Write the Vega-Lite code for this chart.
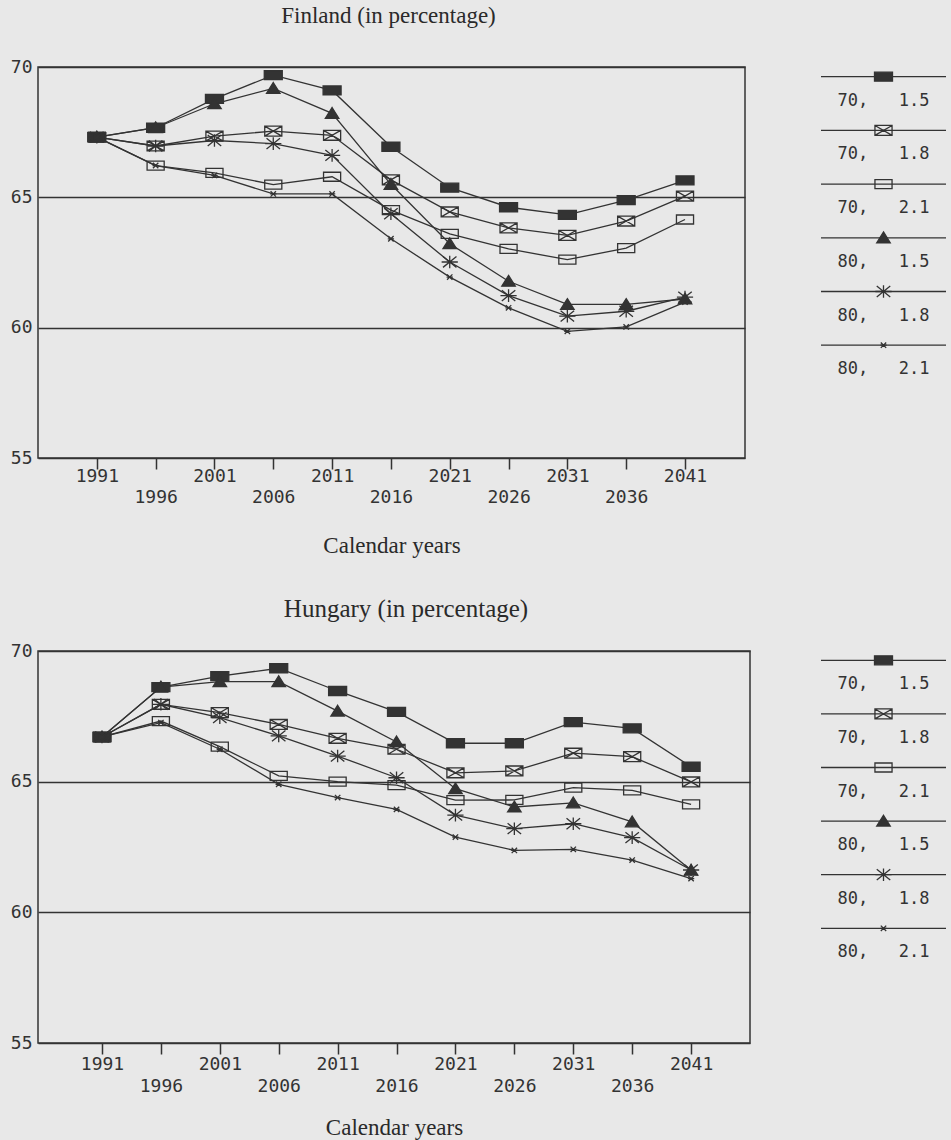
{
  "$schema": "https://vega.github.io/schema/vega-lite/v6.json",
  "background": "#e8e8e8",
  "padding": {"left": 9, "top": 4, "right": 5, "bottom": 0},
  "config": {
    "font": "DejaVu Sans Mono",
    "view": {"stroke": "#333", "strokeWidth": 1.5},
    "title": {"font": "Liberation Serif", "fontSize": 23, "fontWeight": "normal", "color": "#2a2a2a"},
    "axis": {"labelFont": "DejaVu Sans Mono", "labelFontSize": 18, "labelColor": "#333", "titleFont": "Liberation Serif", "titleFontSize": 23, "titleFontWeight": "normal", "titleColor": "#2a2a2a"}
  },
  "datasets": {
    "fin": [
      {"series": "70, 1.5", "year": 1991, "value": 67.31}, {"series": "70, 1.5", "year": 1996, "value": 67.67}, {"series": "70, 1.5", "year": 2001, "value": 68.78}, {"series": "70, 1.5", "year": 2006, "value": 69.69}, {"series": "70, 1.5", "year": 2011, "value": 69.10}, {"series": "70, 1.5", "year": 2016, "value": 66.94}, {"series": "70, 1.5", "year": 2021, "value": 65.37}, {"series": "70, 1.5", "year": 2026, "value": 64.62}, {"series": "70, 1.5", "year": 2031, "value": 64.33}, {"series": "70, 1.5", "year": 2036, "value": 64.89}, {"series": "70, 1.5", "year": 2041, "value": 65.65},
      {"series": "70, 1.8", "year": 1991, "value": 67.31}, {"series": "70, 1.8", "year": 1996, "value": 66.97}, {"series": "70, 1.8", "year": 2001, "value": 67.35}, {"series": "70, 1.8", "year": 2006, "value": 67.54}, {"series": "70, 1.8", "year": 2011, "value": 67.38}, {"series": "70, 1.8", "year": 2016, "value": 65.67}, {"series": "70, 1.8", "year": 2021, "value": 64.44}, {"series": "70, 1.8", "year": 2026, "value": 63.83}, {"series": "70, 1.8", "year": 2031, "value": 63.54}, {"series": "70, 1.8", "year": 2036, "value": 64.09}, {"series": "70, 1.8", "year": 2041, "value": 65.05},
      {"series": "70, 2.1", "year": 1991, "value": 67.31}, {"series": "70, 2.1", "year": 1996, "value": 66.22}, {"series": "70, 2.1", "year": 2001, "value": 65.94}, {"series": "70, 2.1", "year": 2006, "value": 65.49}, {"series": "70, 2.1", "year": 2011, "value": 65.79}, {"series": "70, 2.1", "year": 2016, "value": 64.51}, {"series": "70, 2.1", "year": 2021, "value": 63.60}, {"series": "70, 2.1", "year": 2026, "value": 63.02}, {"series": "70, 2.1", "year": 2031, "value": 62.61}, {"series": "70, 2.1", "year": 2036, "value": 63.05}, {"series": "70, 2.1", "year": 2041, "value": 64.15},
      {"series": "80, 1.5", "year": 1991, "value": 67.31}, {"series": "80, 1.5", "year": 1996, "value": 67.67}, {"series": "80, 1.5", "year": 2001, "value": 68.59}, {"series": "80, 1.5", "year": 2006, "value": 69.18}, {"series": "80, 1.5", "year": 2011, "value": 68.22}, {"series": "80, 1.5", "year": 2016, "value": 65.50}, {"series": "80, 1.5", "year": 2021, "value": 63.22}, {"series": "80, 1.5", "year": 2026, "value": 61.78}, {"series": "80, 1.5", "year": 2031, "value": 60.89}, {"series": "80, 1.5", "year": 2036, "value": 60.89}, {"series": "80, 1.5", "year": 2041, "value": 61.10},
      {"series": "80, 1.8", "year": 1991, "value": 67.31}, {"series": "80, 1.8", "year": 1996, "value": 66.97}, {"series": "80, 1.8", "year": 2001, "value": 67.18}, {"series": "80, 1.8", "year": 2006, "value": 67.06}, {"series": "80, 1.8", "year": 2011, "value": 66.61}, {"series": "80, 1.8", "year": 2016, "value": 64.37}, {"series": "80, 1.8", "year": 2021, "value": 62.52}, {"series": "80, 1.8", "year": 2026, "value": 61.23}, {"series": "80, 1.8", "year": 2031, "value": 60.44}, {"series": "80, 1.8", "year": 2036, "value": 60.63}, {"series": "80, 1.8", "year": 2041, "value": 61.17},
      {"series": "80, 2.1", "year": 1991, "value": 67.31}, {"series": "80, 2.1", "year": 1996, "value": 66.22}, {"series": "80, 2.1", "year": 2001, "value": 65.84}, {"series": "80, 2.1", "year": 2006, "value": 65.13}, {"series": "80, 2.1", "year": 2011, "value": 65.13}, {"series": "80, 2.1", "year": 2016, "value": 63.41}, {"series": "80, 2.1", "year": 2021, "value": 61.94}, {"series": "80, 2.1", "year": 2026, "value": 60.76}, {"series": "80, 2.1", "year": 2031, "value": 59.86}, {"series": "80, 2.1", "year": 2036, "value": 60.03}, {"series": "80, 2.1", "year": 2041, "value": 60.98}
    ],
    "hun": [
      {"series": "70, 1.5", "year": 1991, "value": 66.71}, {"series": "70, 1.5", "year": 1996, "value": 68.62}, {"series": "70, 1.5", "year": 2001, "value": 69.04}, {"series": "70, 1.5", "year": 2006, "value": 69.34}, {"series": "70, 1.5", "year": 2011, "value": 68.47}, {"series": "70, 1.5", "year": 2016, "value": 67.67}, {"series": "70, 1.5", "year": 2021, "value": 66.47}, {"series": "70, 1.5", "year": 2026, "value": 66.47}, {"series": "70, 1.5", "year": 2031, "value": 67.28}, {"series": "70, 1.5", "year": 2036, "value": 67.04}, {"series": "70, 1.5", "year": 2041, "value": 65.57},
      {"series": "70, 1.8", "year": 1991, "value": 66.71}, {"series": "70, 1.8", "year": 1996, "value": 67.96}, {"series": "70, 1.8", "year": 2001, "value": 67.64}, {"series": "70, 1.8", "year": 2006, "value": 67.19}, {"series": "70, 1.8", "year": 2011, "value": 66.66}, {"series": "70, 1.8", "year": 2016, "value": 66.24}, {"series": "70, 1.8", "year": 2021, "value": 65.34}, {"series": "70, 1.8", "year": 2026, "value": 65.41}, {"series": "70, 1.8", "year": 2031, "value": 66.09}, {"series": "70, 1.8", "year": 2036, "value": 65.96}, {"series": "70, 1.8", "year": 2041, "value": 64.99},
      {"series": "70, 2.1", "year": 1991, "value": 66.71}, {"series": "70, 2.1", "year": 1996, "value": 67.32}, {"series": "70, 2.1", "year": 2001, "value": 66.34}, {"series": "70, 2.1", "year": 2006, "value": 65.22}, {"series": "70, 2.1", "year": 2011, "value": 65.00}, {"series": "70, 2.1", "year": 2016, "value": 64.87}, {"series": "70, 2.1", "year": 2021, "value": 64.29}, {"series": "70, 2.1", "year": 2026, "value": 64.30}, {"series": "70, 2.1", "year": 2031, "value": 64.77}, {"series": "70, 2.1", "year": 2036, "value": 64.67}, {"series": "70, 2.1", "year": 2041, "value": 64.13},
      {"series": "80, 1.5", "year": 1991, "value": 66.71}, {"series": "80, 1.5", "year": 1996, "value": 68.62}, {"series": "80, 1.5", "year": 2001, "value": 68.83}, {"series": "80, 1.5", "year": 2006, "value": 68.83}, {"series": "80, 1.5", "year": 2011, "value": 67.70}, {"series": "80, 1.5", "year": 2016, "value": 66.52}, {"series": "80, 1.5", "year": 2021, "value": 64.73}, {"series": "80, 1.5", "year": 2026, "value": 64.03}, {"series": "80, 1.5", "year": 2031, "value": 64.19}, {"series": "80, 1.5", "year": 2036, "value": 63.46}, {"series": "80, 1.5", "year": 2041, "value": 61.61},
      {"series": "80, 1.8", "year": 1991, "value": 66.71}, {"series": "80, 1.8", "year": 1996, "value": 67.96}, {"series": "80, 1.8", "year": 2001, "value": 67.45}, {"series": "80, 1.8", "year": 2006, "value": 66.75}, {"series": "80, 1.8", "year": 2011, "value": 65.98}, {"series": "80, 1.8", "year": 2016, "value": 65.15}, {"series": "80, 1.8", "year": 2021, "value": 63.72}, {"series": "80, 1.8", "year": 2026, "value": 63.20}, {"series": "80, 1.8", "year": 2031, "value": 63.39}, {"series": "80, 1.8", "year": 2036, "value": 62.86}, {"series": "80, 1.8", "year": 2041, "value": 61.62},
      {"series": "80, 2.1", "year": 1991, "value": 66.71}, {"series": "80, 2.1", "year": 1996, "value": 67.26}, {"series": "80, 2.1", "year": 2001, "value": 66.24}, {"series": "80, 2.1", "year": 2006, "value": 64.90}, {"series": "80, 2.1", "year": 2011, "value": 64.39}, {"series": "80, 2.1", "year": 2016, "value": 63.94}, {"series": "80, 2.1", "year": 2021, "value": 62.88}, {"series": "80, 2.1", "year": 2026, "value": 62.37}, {"series": "80, 2.1", "year": 2031, "value": 62.41}, {"series": "80, 2.1", "year": 2036, "value": 62.00}, {"series": "80, 2.1", "year": 2041, "value": 61.29}
    ],
    "leg": [
      {"series": "70, 1.5", "label": "70,\u00a0\u00a0\u00a01.5"}, {"series": "70, 1.8", "label": "70,\u00a0\u00a0\u00a01.8"}, {"series": "70, 2.1", "label": "70,\u00a0\u00a0\u00a02.1"}, {"series": "80, 1.5", "label": "80,\u00a0\u00a0\u00a01.5"}, {"series": "80, 1.8", "label": "80,\u00a0\u00a0\u00a01.8"}, {"series": "80, 2.1", "label": "80,\u00a0\u00a0\u00a02.1"}
    ]
  },
  "columns": 2,
  "align": "none",
  "bounds": "flush",
  "spacing": {"row": 193, "column": 71},
  "concat": [
    {
      "data": {"name": "fin"},
      "width": 707,
      "height": 391,
      "title": {"text": "Finland (in percentage)", "anchor": "middle", "frame": "group", "dx": -3, "offset": 30},
      "encoding": {
        "x": {"field": "year", "type": "quantitative",
          "scale": {"domain": [1986, 2046.1], "nice": false, "zero": false},
          "axis": {"title": "Calendar years", "values": [1991, 1996, 2001, 2006, 2011, 2016, 2021, 2026, 2031, 2036, 2041], "format": "d",
            "labelExpr": "(datum.value - 1991) % 10 == 0 ? datum.label : ['', datum.label]",
            "labelLineHeight": 21, "labelOverlap": false, "labelFlush": false, "labelBound": false,
            "tickSize": 11, "tickColor": "#333", "tickWidth": 1.5, "domain": false, "grid": false,
            "labelPadding": -2, "titlePadding": 28}},
        "y": {"field": "value", "type": "quantitative",
          "scale": {"domain": [55, 70], "nice": false, "zero": false},
          "axis": {"title": null, "values": [55, 60, 65, 70], "tickSize": 0, "domain": false, "grid": true, "gridColor": "#333", "gridWidth": 1.3, "gridOpacity": 1, "labelPadding": 6}}
      },
      "layer": [
        {"mark": {"type": "line", "stroke": "#333", "strokeWidth": 1.3}, "encoding": {"detail": {"field": "series"}}},
        {"mark": {"type": "point", "stroke": "#333", "strokeWidth": 1.3, "opacity": 1, "size": 324},
          "encoding": {
            "shape": {"field": "series", "type": "nominal", "legend": null, "scale": {"domain": ["70, 1.5", "70, 1.8", "70, 2.1", "80, 1.5", "80, 1.8", "80, 2.1"], "range": ["M-1,-0.5H1V0.5H-1Z", "M-0.95,-0.55H0.95V0.55H-0.95ZM-0.95,-0.55L0.95,0.55M-0.95,0.55L0.95,-0.55", "M-0.95,-0.5H0.95V0.5H-0.95Z", "M0,-0.65L0.75,0.55L-0.75,0.55Z", "M-0.9,0H0.9M-0.75,-0.6L0.75,0.6M-0.75,0.6L0.75,-0.6M0,-0.7V0.7", "M-0.35,0H0.35M-0.3,-0.3L0.3,0.3M-0.3,0.3L0.3,-0.3"]}},
            "fill": {"field": "series", "type": "nominal", "legend": null, "scale": {"domain": ["70, 1.5", "70, 1.8", "70, 2.1", "80, 1.5", "80, 1.8", "80, 2.1"], "range": ["#333", "transparent", "transparent", "#333", "transparent", "transparent"]}}
          }}
      ]
    },
    {
      "data": {"name": "leg"},
      "width": 125,
      "height": 391,
      "view": {"stroke": null},
      "encoding": {"y": {"field": "series", "type": "ordinal", "axis": null, "scale": {"type": "point", "padding": 0, "domain": ["70, 1.5", "70, 1.8", "70, 2.1", "80, 1.5", "80, 1.8", "80, 2.1"], "range": [9.7, 278.2]}}},
      "layer": [
        {"mark": {"type": "rule", "stroke": "#333", "strokeWidth": 1.3},
          "encoding": {"x": {"datum": 0, "type": "quantitative", "scale": {"domain": [0, 1]}, "axis": null}, "x2": {"datum": 1}}},
        {"mark": {"type": "point", "stroke": "#333", "strokeWidth": 1.3, "opacity": 1, "size": 324},
          "encoding": {
            "x": {"datum": 0.5, "type": "quantitative", "scale": {"domain": [0, 1]}, "axis": null},
            "shape": {"field": "series", "type": "nominal", "legend": null, "scale": {"domain": ["70, 1.5", "70, 1.8", "70, 2.1", "80, 1.5", "80, 1.8", "80, 2.1"], "range": ["M-1,-0.5H1V0.5H-1Z", "M-0.95,-0.55H0.95V0.55H-0.95ZM-0.95,-0.55L0.95,0.55M-0.95,0.55L0.95,-0.55", "M-0.95,-0.5H0.95V0.5H-0.95Z", "M0,-0.65L0.75,0.55L-0.75,0.55Z", "M-0.9,0H0.9M-0.75,-0.6L0.75,0.6M-0.75,0.6L0.75,-0.6M0,-0.7V0.7", "M-0.35,0H0.35M-0.3,-0.3L0.3,0.3M-0.3,0.3L0.3,-0.3"]}},
            "fill": {"field": "series", "type": "nominal", "legend": null, "scale": {"domain": ["70, 1.5", "70, 1.8", "70, 2.1", "80, 1.5", "80, 1.8", "80, 2.1"], "range": ["#333", "transparent", "transparent", "#333", "transparent", "transparent"]}}
          }},
        {"mark": {"type": "text", "dy": 24, "font": "DejaVu Sans Mono", "fontSize": 17, "fill": "#333", "baseline": "middle"},
          "encoding": {"x": {"datum": 0.5, "type": "quantitative", "scale": {"domain": [0, 1]}, "axis": null}, "text": {"field": "label"}}}
      ]
    },
    {
      "data": {"name": "hun"},
      "width": 712,
      "height": 392,
      "title": {"text": "Hungary (in percentage)", "anchor": "middle", "frame": "group", "dx": 12, "offset": 20, "fontSize": 25},
      "encoding": {
        "x": {"field": "year", "type": "quantitative",
          "scale": {"domain": [1985.57, 2046.0], "nice": false, "zero": false},
          "axis": {"title": "Calendar years", "values": [1991, 1996, 2001, 2006, 2011, 2016, 2021, 2026, 2031, 2036, 2041], "format": "d",
            "labelExpr": "(datum.value - 1991) % 10 == 0 ? datum.label : ['', datum.label]",
            "labelLineHeight": 22, "labelOverlap": false, "labelFlush": false, "labelBound": false,
            "tickSize": 11, "tickColor": "#333", "tickWidth": 1.5, "domain": false, "grid": false,
            "labelPadding": 1, "titlePadding": 21}},
        "y": {"field": "value", "type": "quantitative",
          "scale": {"domain": [55, 70], "nice": false, "zero": false},
          "axis": {"title": null, "values": [55, 60, 65, 70], "tickSize": 0, "domain": false, "grid": true, "gridColor": "#333", "gridWidth": 1.3, "gridOpacity": 1, "labelPadding": 6}}
      },
      "layer": [
        {"mark": {"type": "line", "stroke": "#333", "strokeWidth": 1.3}, "encoding": {"detail": {"field": "series"}}},
        {"mark": {"type": "point", "stroke": "#333", "strokeWidth": 1.3, "opacity": 1, "size": 324},
          "encoding": {
            "shape": {"field": "series", "type": "nominal", "legend": null, "scale": {"domain": ["70, 1.5", "70, 1.8", "70, 2.1", "80, 1.5", "80, 1.8", "80, 2.1"], "range": ["M-1,-0.5H1V0.5H-1Z", "M-0.95,-0.55H0.95V0.55H-0.95ZM-0.95,-0.55L0.95,0.55M-0.95,0.55L0.95,-0.55", "M-0.95,-0.5H0.95V0.5H-0.95Z", "M0,-0.65L0.75,0.55L-0.75,0.55Z", "M-0.9,0H0.9M-0.75,-0.6L0.75,0.6M-0.75,0.6L0.75,-0.6M0,-0.7V0.7", "M-0.35,0H0.35M-0.3,-0.3L0.3,0.3M-0.3,0.3L0.3,-0.3"]}},
            "fill": {"field": "series", "type": "nominal", "legend": null, "scale": {"domain": ["70, 1.5", "70, 1.8", "70, 2.1", "80, 1.5", "80, 1.8", "80, 2.1"], "range": ["#333", "transparent", "transparent", "#333", "transparent", "transparent"]}}
          }}
      ]
    },
    {
      "data": {"name": "leg"},
      "width": 125,
      "height": 392,
      "view": {"stroke": null},
      "encoding": {"y": {"field": "series", "type": "ordinal", "axis": null, "scale": {"type": "point", "padding": 0, "domain": ["70, 1.5", "70, 1.8", "70, 2.1", "80, 1.5", "80, 1.8", "80, 2.1"], "range": [9.3, 277.3]}}},
      "layer": [
        {"mark": {"type": "rule", "stroke": "#333", "strokeWidth": 1.3},
          "encoding": {"x": {"datum": 0, "type": "quantitative", "scale": {"domain": [0, 1]}, "axis": null}, "x2": {"datum": 1}}},
        {"mark": {"type": "point", "stroke": "#333", "strokeWidth": 1.3, "opacity": 1, "size": 324},
          "encoding": {
            "x": {"datum": 0.5, "type": "quantitative", "scale": {"domain": [0, 1]}, "axis": null},
            "shape": {"field": "series", "type": "nominal", "legend": null, "scale": {"domain": ["70, 1.5", "70, 1.8", "70, 2.1", "80, 1.5", "80, 1.8", "80, 2.1"], "range": ["M-1,-0.5H1V0.5H-1Z", "M-0.95,-0.55H0.95V0.55H-0.95ZM-0.95,-0.55L0.95,0.55M-0.95,0.55L0.95,-0.55", "M-0.95,-0.5H0.95V0.5H-0.95Z", "M0,-0.65L0.75,0.55L-0.75,0.55Z", "M-0.9,0H0.9M-0.75,-0.6L0.75,0.6M-0.75,0.6L0.75,-0.6M0,-0.7V0.7", "M-0.35,0H0.35M-0.3,-0.3L0.3,0.3M-0.3,0.3L0.3,-0.3"]}},
            "fill": {"field": "series", "type": "nominal", "legend": null, "scale": {"domain": ["70, 1.5", "70, 1.8", "70, 2.1", "80, 1.5", "80, 1.8", "80, 2.1"], "range": ["#333", "transparent", "transparent", "#333", "transparent", "transparent"]}}
          }},
        {"mark": {"type": "text", "dy": 24, "font": "DejaVu Sans Mono", "fontSize": 17, "fill": "#333", "baseline": "middle"},
          "encoding": {"x": {"datum": 0.5, "type": "quantitative", "scale": {"domain": [0, 1]}, "axis": null}, "text": {"field": "label"}}}
      ]
    }
  ]
}
